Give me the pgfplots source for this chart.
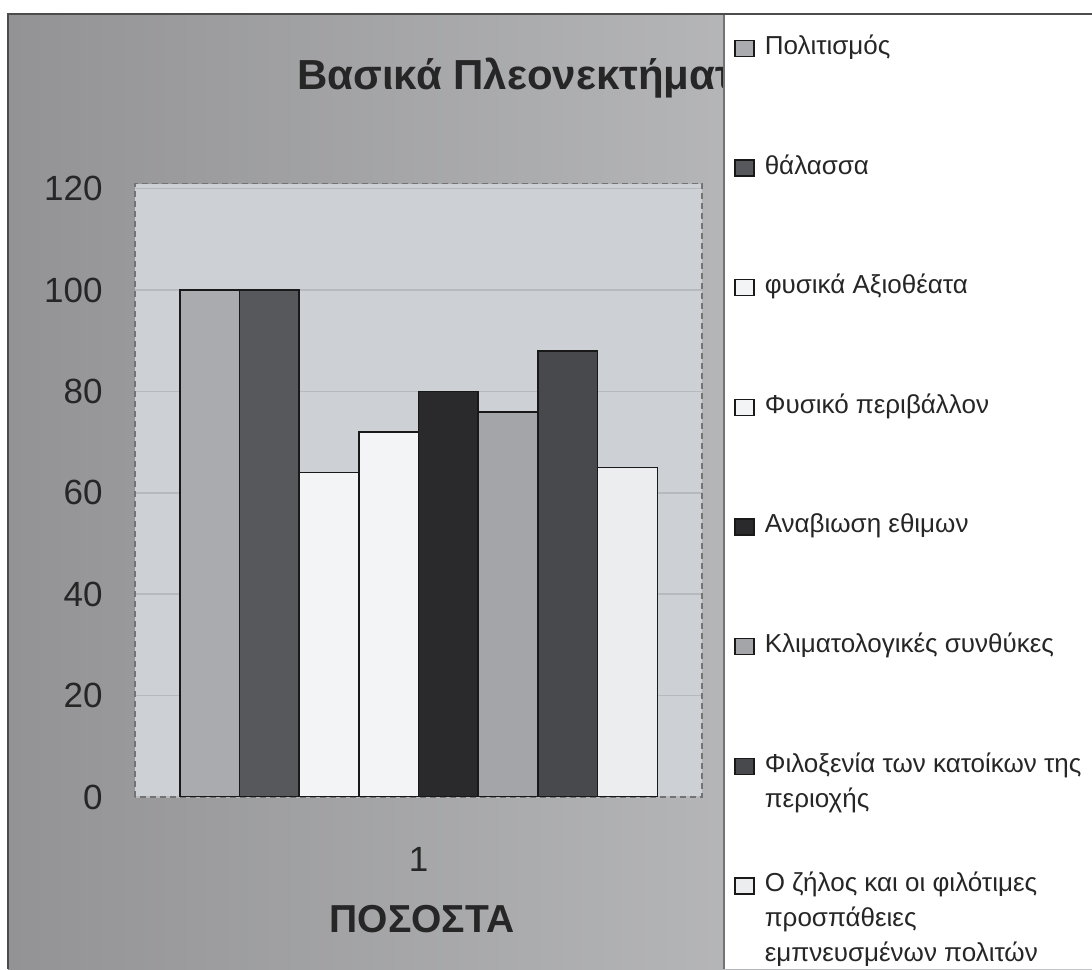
\documentclass[border=0pt]{standalone}
\usepackage{fontspec}
\setmainfont{Liberation Sans}
\usepackage{pgfplots}
\pgfplotsset{compat=1.18}
\definecolor{bgL}{HTML}{939395}
\definecolor{bgR}{HTML}{C6C7C9}
\definecolor{plotbg}{HTML}{CDD0D4}
\definecolor{gridc}{HTML}{B6B9BE}
\definecolor{cA}{HTML}{A9ABAE}
\definecolor{cB}{HTML}{57585C}
\definecolor{cC}{HTML}{F3F4F6}
\definecolor{cD}{HTML}{F3F4F6}
\definecolor{cE}{HTML}{2A2A2C}
\definecolor{cF}{HTML}{A4A5A8}
\definecolor{cG}{HTML}{48494C}
\definecolor{cH}{HTML}{ECEDEF}
\newcommand\lentry[1]{\strut\smash{\parbox[t]{178pt}{\raggedright\strut #1}}}
\pgfplotsset{mybar/.style={fill=#1, draw=black!90, line width=0.8pt,
  legend image code/.code={\draw[##1, line width=0.7pt] (0pt,-1pt) rectangle (9.5pt,7pt);}}}
\begin{document}
\begin{tikzpicture}
\useasboundingbox (0,0) rectangle (546pt,484.5pt);
\fill[white] (0,0) rectangle (546pt,484.5pt);
\shade[left color=bgL, right color=bgR] (4pt,0) rectangle (546pt,477.5pt);
\draw[line width=1.2pt, black!70] (4pt,0) -- (4pt,477.5pt) -- (546pt,477.5pt);
\node[anchor=base west, font=\fontsize{21}{25}\selectfont\bfseries, text=black!85, inner sep=0pt] at (148.5pt,439.5pt) {Βασικά Πλεονεκτήματα};
\fill[white] (362pt,0) rectangle (546pt,476.9pt);
\draw[black!55, line width=0.6pt] (362pt,0) -- (362pt,476.9pt);
\begin{axis}[
  at={(67.5pt,86pt)}, anchor=south west,
  scale only axis, width=283.5pt, height=306.7pt,
  xmin=0.5, xmax=1.5, ymin=0, ymax=121,
  ybar=0pt, bar width=29.85pt,
  xtick={1}, ytick={0,20,...,120},
  tick style={draw=none},
  axis background/.style={fill=plotbg},
  ymajorgrids, grid style={draw=gridc, line width=0.8pt},
  axis line style={draw=black!55, densely dashed, line width=0.6pt},
  /pgf/number format/assume math mode=true,
  ticklabel style={font=\fontsize{17.5}{20}\selectfont, text=black!85},
  yticklabel style={anchor=east, inner sep=0pt, xshift=-16pt},
  xticklabel style={anchor=north, inner sep=0pt, yshift=-20.5pt},
  xlabel={ΠΟΣΟΣΤΑ},
  xlabel style={at={(axis description cs:0.5,0)}, anchor=base, yshift=-67.5pt, xshift=1.75pt,
    font=\fontsize{19.5}{22}\selectfont\bfseries, text=black!85, inner sep=0pt},
  legend style={at={(axis description cs:1.0564,1.2512)}, anchor=north west,
    draw=none, fill=none, inner sep=0pt, row sep=46.07pt, column sep=5pt,
    font=\fontsize{13}{17.5}\selectfont, text=black!85,
    nodes={inner sep=0pt, anchor=base west}, cells={anchor=base west}},
  legend cell align=left,
]
\addplot[mybar=cA] coordinates {(1,100)};
\addlegendentry{\lentry{Πολιτισμός}}
\addplot[mybar=cB] coordinates {(1,100)};
\addlegendentry{\lentry{θάλασσα}}
\addplot[mybar=cC] coordinates {(1,64)};
\addlegendentry{\lentry{φυσικά Αξιοθέατα}}
\addplot[mybar=cD] coordinates {(1,72)};
\addlegendentry{\lentry{Φυσικό περιβάλλον}}
\addplot[mybar=cE] coordinates {(1,80)};
\addlegendentry{\lentry{Αναβιωση εθιμων}}
\addplot[mybar=cF] coordinates {(1,76)};
\addlegendentry{\lentry{Κλιματολογικές συνθύκες}}
\addplot[mybar=cG] coordinates {(1,88)};
\addlegendentry{\lentry{Φιλοξενία των κατοίκων της\\περιοχής}}
\addplot[mybar=cH] coordinates {(1,65)};
\addlegendentry{\lentry{Ο ζήλος και οι φιλότιμες\\προσπάθειες\\εμπνευσμένων πολιτών}}
\end{axis}
\end{tikzpicture}
\end{document}
